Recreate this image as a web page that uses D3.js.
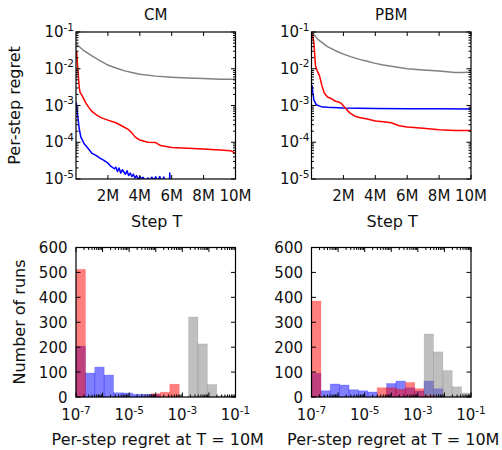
<!DOCTYPE html>
<html lang="en">
<head>
  <meta charset="UTF-8">
  <title>Per-step regret</title>
  <script src="https://cdnjs.cloudflare.com/ajax/libs/d3/7.8.5/d3.min.js"></script>
  <style>
    body { margin: 0; background: #fff; }
    text { font-family: "DejaVu Sans", sans-serif; fill: #111; }
  </style>
</head>
<body>
  <svg width="502" height="450"></svg>
  <script>
    // ---- data: per-step regret curves, [step in millions, regret] ----
    const cmGray = [[0.02, 0.047], [0.5, 0.031], [1, 0.0224], [1.5, 0.0166], [2, 0.0126], [2.5, 0.0105],
      [3, 0.0089], [3.5, 0.0079], [4, 0.0071], [5, 0.0063], [6, 0.0059], [7, 0.0056], [8, 0.0054],
      [9, 0.0052], [10, 0.0052]];
    const cmRed = [[0.04, 0.029], [0.1, 0.012], [0.2, 0.0032], [0.25, 0.0023], [0.4, 0.0018], [0.6, 0.0012],
      [0.8, 0.00089], [1, 0.00069], [1.3, 0.00055], [1.6, 0.00046], [2, 0.0004], [2.5, 0.00034],
      [3, 0.00026], [3.3, 0.00022], [3.5, 0.00018], [3.7, 0.00014], [4, 0.000115], [4.5, 0.0001],
      [5, 0.000098], [5.3, 0.000081], [6, 0.000072], [7, 0.000069], [8, 0.000066], [9, 0.000062],
      [9.7, 0.000059], [10, 0.00005]];
    const cmBlue = [[0.02, 0.0012], [0.1, 0.00055], [0.2, 0.00024], [0.3, 0.00014], [0.5, 0.000093],
      [0.75, 0.000069], [1, 0.00005], [1.25, 0.000044], [1.5, 0.000037], [1.75, 0.000032], [2, 0.000027],
      [2.2, 0.000022], [2.4, 0.000019], [2.5, 0.000021], [2.6, 0.000016], [2.7, 0.00002], [2.8, 0.0000145],
      [2.9, 0.0000178], [3, 0.0000155], [3.1, 0.0000135], [3.2, 0.0000168], [3.3, 0.0000124],
      [3.4, 0.0000145], [3.5, 0.0000117], [3.6, 0.0000135], [3.7, 0.0000107], [3.8, 0.0000124],
      [3.9, 0.0000095], [4, 0.0000117], [4.1, 0.0000102], [4.2, 0.0000112], [4.35, 0.0000088],
      [4.5, 0.0000107], [4.6, 0.0000092], [4.75, 0.0000112], [4.9, 0.0000096], [5, 0.0000115],
      [5.1, 0.0000085], [5.25, 0.0000117], [5.4, 0.000008], [5.5, 0.0000113], [5.6, 0.0000093],
      [5.75, 0.0000088], [5.86, 0.000009], [5.88, 0.0000145], [5.9, 0.000008]];

    const pbmGray = [[0.05, 0.095], [0.4, 0.063], [1, 0.04], [1.5, 0.031], [2, 0.025], [2.5, 0.021],
      [3, 0.018], [3.5, 0.016], [4, 0.014], [4.5, 0.0126], [5, 0.0117], [6, 0.01], [7, 0.0093],
      [8, 0.0087], [9, 0.0079], [9.5, 0.0079], [10, 0.008]];
    const pbmRed = [[0.05, 0.087], [0.15, 0.051], [0.25, 0.012], [0.35, 0.0089], [0.5, 0.0065], [0.65, 0.0035],
      [0.8, 0.0022], [1, 0.0017], [1.3, 0.0015], [1.5, 0.0013], [1.7, 0.00125], [1.9, 0.0011],
      [2.1, 0.00087], [2.4, 0.00063], [2.7, 0.00052], [3, 0.00047], [3.5, 0.00043], [4, 0.00038],
      [4.5, 0.00036], [5, 0.00034], [5.5, 0.00028], [6, 0.00026], [7, 0.00024], [8, 0.00022],
      [9, 0.00021], [10, 0.00021]];
    const pbmBlue = [[0.03, 0.0036], [0.08, 0.0023], [0.15, 0.0014], [0.3, 0.00105], [0.6, 0.00093],
      [1, 0.00089], [2, 0.00085], [4, 0.00083], [6, 0.00082], [8, 0.00081], [10, 0.0008]];

    const stepTicks = [2, 4, 6, 8, 10];

    // ---- data: histograms of regret at T = 10M (17 log-spaced bins, 1e-7 .. 1e-1) ----
    const binEdgeExps = [-7, -6.647, -6.294, -5.941, -5.588, -5.235, -4.882, -4.529, -4.176,
      -3.824, -3.471, -3.118, -2.765, -2.412, -2.059, -1.706, -1.353, -1];
    const cmBlueHist = [204, 96, 120, 88, 17, 16, 11, 11, 10, 0, 0, 0, 0, 0, 0, 0, 0];
    const cmRedHist = [512, 0, 0, 0, 0, 0, 0, 0, 13, 19, 51, 0, 0, 0, 0, 0, 0];
    const cmGrayHist = [0, 0, 0, 0, 0, 0, 0, 0, 0, 0, 0, 0, 321, 213, 50, 4, 3];
    const pbmBlueHist = [95, 25, 52, 48, 29, 25, 20, 0, 54, 64, 37, 24, 64, 33, 0, 0, 0];
    const pbmRedHist = [385, 0, 0, 0, 0, 0, 0, 37, 37, 31, 58, 33, 8, 0, 0, 0, 0];
    const pbmGrayHist = [0, 0, 0, 0, 0, 0, 0, 0, 0, 0, 0, 0, 253, 181, 106, 41, 16];
    const countTicks = [0, 100, 200, 300, 400, 500, 600];

    const panels = [
      { title: "CM", lines: [cmBlue, cmRed, cmGray], hists: [cmBlueHist, cmRedHist, cmGrayHist], x0: 76, x1: 235.5 },
      { title: "PBM", lines: [pbmBlue, pbmRed, pbmGray], hists: [pbmBlueHist, pbmRedHist, pbmGrayHist], x0: 311.5, x1: 471 }
    ];
    const lineColors = ["#0000ff", "#ff0000", "#808080"];
    const histColors = ["#0000ff", "#ff0000", "#808080"];

    const svg = d3.select("svg");
    const topBox = { y0: 32, y1: 179 };
    const botBox = { y0: 247.5, y1: 397 };

    function powLabel(sel, exp, supSize) {
      sel.append("tspan").text("10");
      sel.append("tspan").attr("font-size", supSize).attr("dy", -6.5).text(exp);
    }

    panels.forEach((p, pi) => {
      // ---------------- top: regret curves ----------------
      const x = d3.scaleLinear().domain([0, 10]).range([p.x0, p.x1]);
      const y = d3.scaleLog().domain([1e-5, 1e-1]).range([topBox.y1, topBox.y0]);

      const clipId = "clip" + pi;
      svg.append("clipPath").attr("id", clipId)
        .append("rect").attr("x", p.x0).attr("y", topBox.y0)
        .attr("width", p.x1 - p.x0).attr("height", topBox.y1 - topBox.y0);

      const line = d3.line().x(d => x(d[0])).y(d => y(d[1]));
      svg.append("g").attr("clip-path", `url(#${clipId})`)
        .selectAll("path")
        .data(p.lines)
        .enter().append("path")
        .attr("d", line)
        .attr("fill", "none")
        .attr("stroke", (d, i) => lineColors[i])
        .attr("stroke-width", 1.5)
        .attr("stroke-linejoin", "round");

      const gt = svg.append("g");
      // x ticks, inward on bottom and top
      stepTicks.forEach(t => {
        gt.append("line").attr("x1", x(t)).attr("x2", x(t)).attr("y1", topBox.y1).attr("y2", topBox.y1 - 4).attr("stroke", "#000");
        gt.append("line").attr("x1", x(t)).attr("x2", x(t)).attr("y1", topBox.y0).attr("y2", topBox.y0 + 4).attr("stroke", "#000");
        gt.append("text").attr("x", x(t)).attr("y", topBox.y1 + 21.5)
          .attr("text-anchor", "middle").attr("font-size", 15).text(t + "M");
      });
      // y ticks (log, with minor ticks)
      y.ticks().forEach(v => {
        const major = Math.abs(Math.log10(v) - Math.round(Math.log10(v))) < 1e-9;
        const len = major ? 4.5 : 2.5;
        gt.append("line").attr("x1", p.x0).attr("x2", p.x0 + len).attr("y1", y(v)).attr("y2", y(v)).attr("stroke", "#000");
        gt.append("line").attr("x1", p.x1).attr("x2", p.x1 - len).attr("y1", y(v)).attr("y2", y(v)).attr("stroke", "#000");
        if (major) {
          const tx = gt.append("text").attr("x", p.x0 - 2).attr("y", y(v) + 5)
            .attr("text-anchor", "end").attr("font-size", 15);
          powLabel(tx, String(Math.round(Math.log10(v))), 10.5);
        }
      });
      gt.append("rect").attr("x", p.x0).attr("y", topBox.y0)
        .attr("width", p.x1 - p.x0).attr("height", topBox.y1 - topBox.y0)
        .attr("fill", "none").attr("stroke", "#000").attr("stroke-width", 1.2);

      svg.append("text").attr("x", (p.x0 + p.x1) / 2).attr("y", 20)
        .attr("text-anchor", "middle").attr("font-size", 15).text(p.title);
      svg.append("text").attr("x", (p.x0 + p.x1) / 2 + 1).attr("y", 226.5)
        .attr("text-anchor", "middle").attr("font-size", 16).text("Step T");

      // ---------------- bottom: histograms ----------------
      const hx = d3.scaleLog().domain([1e-7, 1e-1]).range([p.x0, p.x1]);
      const hy = d3.scaleLinear().domain([0, 600]).range([botBox.y1, botBox.y0]);

      p.hists.forEach((counts, si) => {
        svg.append("g")
          .selectAll("rect")
          .data(counts.map((c, k) => ({ c, lo: Math.pow(10, binEdgeExps[k]), hi: Math.pow(10, binEdgeExps[k + 1]) }))
            .filter(d => d.c > 0))
          .enter().append("rect")
          .attr("x", d => hx(d.lo))
          .attr("width", d => hx(d.hi) - hx(d.lo))
          .attr("y", d => hy(d.c))
          .attr("height", d => hy(0) - hy(d.c))
          .attr("fill", histColors[si]).attr("fill-opacity", 0.5)
          .attr("stroke", histColors[si]).attr("stroke-opacity", 0.25).attr("stroke-width", 0.8);
      });

      const gb = svg.append("g");
      hx.ticks().forEach(v => {
        const major = Math.abs(Math.log10(v) - Math.round(Math.log10(v))) < 1e-9;
        const len = major ? 4.5 : 2.5;
        gb.append("line").attr("x1", hx(v)).attr("x2", hx(v)).attr("y1", botBox.y1).attr("y2", botBox.y1 - len).attr("stroke", "#000");
        gb.append("line").attr("x1", hx(v)).attr("x2", hx(v)).attr("y1", botBox.y0).attr("y2", botBox.y0 + len).attr("stroke", "#000");
        if (major && Math.round(Math.log10(v)) % 2 !== 0) {
          const tx = gb.append("text").attr("x", hx(v)).attr("y", botBox.y1 + 23)
            .attr("text-anchor", "middle").attr("font-size", 15);
          powLabel(tx, String(Math.round(Math.log10(v))), 10.5);
        }
      });
      countTicks.forEach(c => {
        gb.append("line").attr("x1", p.x0).attr("x2", p.x0 + 4.5).attr("y1", hy(c)).attr("y2", hy(c)).attr("stroke", "#000");
        gb.append("line").attr("x1", p.x1).attr("x2", p.x1 - 4.5).attr("y1", hy(c)).attr("y2", hy(c)).attr("stroke", "#000");
        gb.append("text").attr("x", p.x0 - 8.5).attr("y", hy(c) + 5.5)
          .attr("text-anchor", "end").attr("font-size", 15).text(c);
      });
      gb.append("rect").attr("x", p.x0).attr("y", botBox.y0)
        .attr("width", p.x1 - p.x0).attr("height", botBox.y1 - botBox.y0)
        .attr("fill", "none").attr("stroke", "#000").attr("stroke-width", 1.2);

      svg.append("text").attr("x", (p.x0 + p.x1) / 2 + 2).attr("y", 445)
        .attr("text-anchor", "middle").attr("font-size", 16).text("Per-step regret at T = 10M");
    });

    // y axis labels (left column only)
    svg.append("text").attr("transform", "translate(20,105.5) rotate(-90)")
      .attr("text-anchor", "middle").attr("font-size", 16).text("Per-step regret");
    svg.append("text").attr("transform", "translate(25,322) rotate(-90)")
      .attr("text-anchor", "middle").attr("font-size", 16).text("Number of runs");
  </script>
</body>
</html>
